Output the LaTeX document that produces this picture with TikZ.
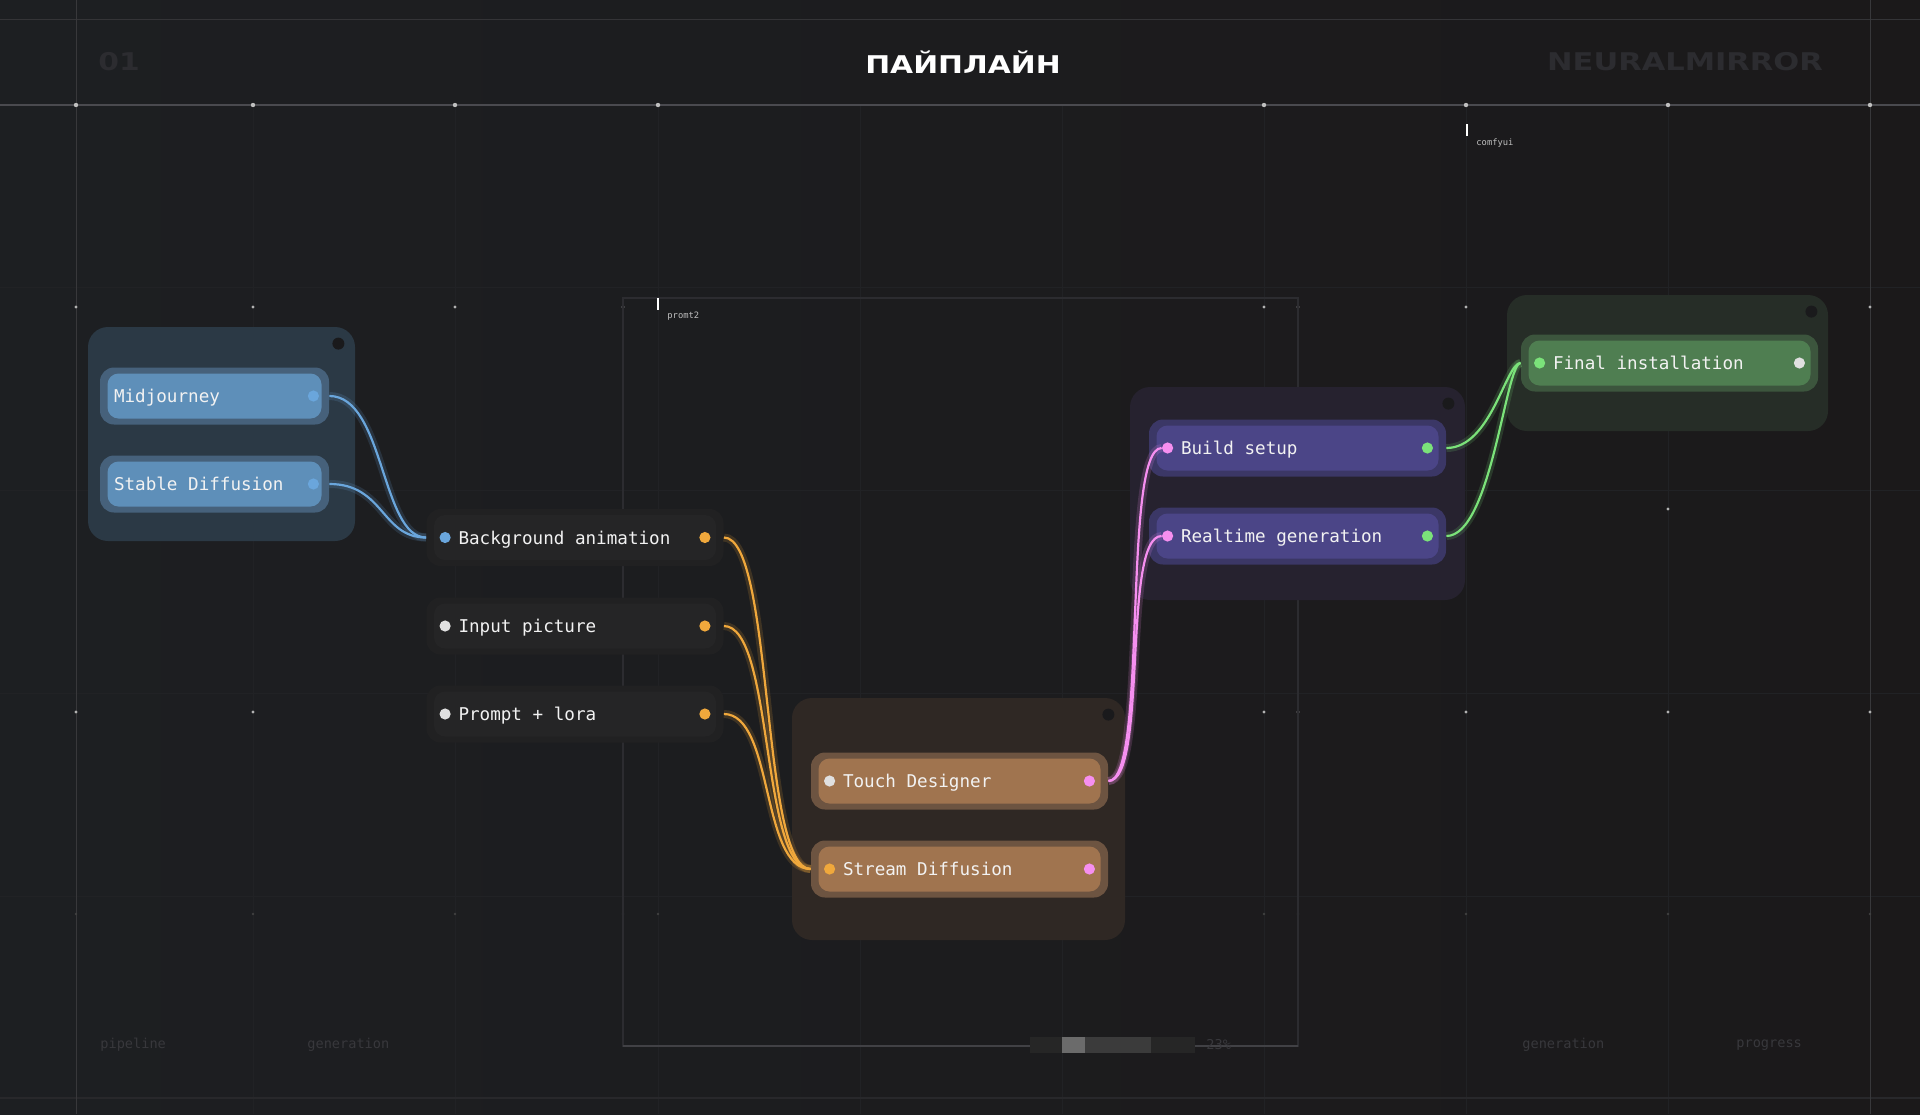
\documentclass[tikz,border=0pt]{standalone}
\usepackage{fontspec}
\setmainfont{DejaVu Sans}
\newfontfamily\monofont{DejaVu Sans Mono}
\usetikzlibrary{calc}

\definecolor{canvasL}{HTML}{1D1F22}
\definecolor{canvasR}{HTML}{1B191A}
\definecolor{gridln}{HTML}{212225}
\definecolor{baseln}{HTML}{28282B}
\definecolor{rule}{HTML}{4A4A4F}
\definecolor{faint}{HTML}{2C2C30}
\definecolor{dimtext}{HTML}{38383C}
\definecolor{nodetext}{HTML}{F2F2F2}
% group panels
\definecolor{blgroup}{HTML}{2B3945}
\definecolor{brgroup}{HTML}{2F2824}
\definecolor{pugroup}{HTML}{26222F}
\definecolor{gngroup}{HTML}{262D27}
\definecolor{hole}{HTML}{1A1A1C}
% node rings and cores
\definecolor{blring}{HTML}{46617B}
\definecolor{blcore}{HTML}{5E8FB9}
\definecolor{dkring}{HTML}{212122}
\definecolor{dkcore}{HTML}{252526}
\definecolor{brring}{HTML}{6D5441}
\definecolor{brcore}{HTML}{A0744F}
\definecolor{puring}{HTML}{3B3766}
\definecolor{pucore}{HTML}{4B4587}
\definecolor{gnring}{HTML}{3C553D}
\definecolor{gncore}{HTML}{4F7E51}
% ports and wires
\definecolor{blport}{HTML}{6AA6DC}
\definecolor{wport}{HTML}{E0E0E0}
\definecolor{orport}{HTML}{F0A83C}
\definecolor{pkport}{HTML}{F68FF0}
\definecolor{gnport}{HTML}{7BE27A}

\begin{document}
\begin{tikzpicture}[x=0.5pt,y=-0.5pt,
    groupbox/.style={fill=#1, rounded corners=10pt, inner sep=0pt},
    ring/.style={fill=#1, rounded corners=7pt, minimum width=148.5pt, minimum height=28.5pt, inner sep=0pt},
    core/.style={fill=#1, rounded corners=5.5pt, minimum width=141pt, minimum height=22.5pt, inner sep=0pt},
    port/.style={circle, fill=#1, minimum size=5.6pt, inner sep=0pt},
    hole/.style={circle, fill=hole, minimum size=6pt, inner sep=0pt},
    lbl/.style={anchor=west, text=nodetext, inner sep=0pt, text height=7.6pt, text depth=0.9pt,
        font=\monofont\fontsize{8.8}{10}\selectfont},
    tiny/.style={anchor=west, text=#1, inner sep=0pt, font=\monofont\fontsize{4.4}{5}\selectfont},
    foot/.style={text=dimtext, inner sep=0pt, font=\monofont\fontsize{6.8}{8}\selectfont},
    head/.style={text=#1, inner sep=0pt, font=\bfseries\fontsize{12.2}{14}\selectfont},
    wire/.style={draw=#1, line width=1.1pt},
    glow/.style={draw=#1, line width=4pt, opacity=0.16}]
\useasboundingbox (0,0) rectangle (1920,1114);

% Backdrop
\shade[left color=canvasL, right color=canvasR] (0,0) rectangle (1920,1114);
\foreach \x in {253,455,658,860,1062,1264,1466,1668}
    \draw[gridln, line width=0.5pt] (\x,105) -- (\x,1114);
\foreach \y in {287,490,693,896}
    \draw[gridln, line width=0.5pt] (0,\y) -- (1920,\y);
\draw[baseln, line width=0.6pt] (0,1098) -- (1920,1098);
\draw[rule!70!black, line width=0.5pt] (0,19) -- (1920,19);
\draw[rule, line width=0.6pt] (0,105) -- (1920,105);
\foreach \x in {76,1870}
    \draw[rule!75!black, line width=0.5pt] (\x,0) -- (\x,1114);

% Grid dots
\foreach \x in {76,253,455,658,1264,1466,1668,1870}
    \fill[white!75!black] (\x,105) circle (1.1pt);
\foreach \x/\y in {76/307,253/307,455/307,623/307,1264/307,1298/307,1466/307,1668/307,1870/307,
                   1668/509,
                   76/712,253/712,1264/712,1298/712,1466/712,1668/712,1870/712}
    \fill[white!70!black] (\x,\y) circle (0.8pt);
\foreach \x in {76,253,455,623,658,1264,1298,1466,1668,1870}
    \fill[white!25!black] (\x,914) circle (0.7pt);

% Frame and markers
\draw[faint, line width=0.7pt] (623,298) rectangle (1298,1046);
\draw[faint!90!white, line width=1.1pt] (623,1046) -- (1298,1046);
\draw[white, line width=1pt] (658,298) -- (658,310);
\node[tiny=white!75!black] (promt) at (667,316) {promt2};
\draw[white, line width=1pt] (1467,124) -- (1467,136);
\node[tiny=white!75!black] (comfy) at (1476,143) {comfyui};

% Header
\node[head=white] (title) at (963,62) {\scalebox{1.22}[1]{ПАЙПЛАЙН}};
\node[head=faint] (num) at (119,62) {\scalebox{1.22}[1]{01}};
\node[head=faint] (brand) at (1685,62) {\scalebox{1.25}[1]{NEURALMIRROR}};

% Footer
\node[foot, anchor=west] (f1) at (100,1045) {pipeline};
\node[foot, anchor=west] (f2) at (307,1045) {generation};
\node[foot, anchor=west] (f3) at (1522,1045) {generation};
\node[foot, anchor=west] (f4) at (1736,1045) {progress};
\fill[white!15!black] (1030,1037) rectangle (1195,1053);
\fill[white!23!black] (1085,1037) rectangle (1151,1053);
\fill[white!42!black] (1062,1037) rectangle (1085,1053);
\node[foot, anchor=west] (pct) at (1206,1045) {23\%};

% Groups
\node[groupbox=blgroup, minimum width=133.5pt, minimum height=107pt] (g1) at (221.5,434) {};
\node[groupbox=brgroup, minimum width=166.5pt, minimum height=121pt] (g2) at (958.5,819) {};
\node[groupbox=pugroup, minimum width=167.5pt, minimum height=106.5pt] (g3) at (1297.5,493.5) {};
\node[groupbox=gngroup, minimum width=160.5pt, minimum height=68pt] (g4) at (1667.5,363) {};
\foreach \g in {g1,g2,g3,g4}
    \node[hole] (\g-hole) at ([xshift=-8.5pt,yshift=-8.5pt]\g.north east) {};

% Sources
\foreach \nm/\y/\txt in {mj/396/Midjourney, sd/484/Stable Diffusion} {
    \node[ring=blring, minimum width=114.5pt] (\nm) at (214.5,\y) {};
    \node[core=blcore, minimum width=107pt] (\nm-core) at (\nm) {};
    \node[lbl] (\nm-txt) at ([xshift=7pt]\nm.west) {\txt};
    \node[port=blport] (\nm-out) at ([xshift=-8pt]\nm.east) {};
}

% Inputs
\foreach \nm/\y/\txt/\pin in {bg/537.5/Background animation/blport, ip/626/Input picture/wport, pl/714/Prompt + lora/wport} {
    \node[ring=dkring] (\nm) at (575,\y) {};
    \node[core=dkcore] (\nm-core) at (\nm) {};
    \node[port=\pin] (\nm-in) at ([xshift=9.5pt]\nm.west) {};
    \node[lbl] (\nm-txt) at ([xshift=16pt]\nm.west) {\txt};
    \node[port=orport] (\nm-out) at ([xshift=-9.5pt]\nm.east) {};
}

% Processing
\foreach \nm/\y/\txt/\pin in {td/781/Touch Designer/wport, sdf/869/Stream Diffusion/orport} {
    \node[ring=brring] (\nm) at (959.5,\y) {};
    \node[core=brcore] (\nm-core) at (\nm) {};
    \node[port=\pin] (\nm-in) at ([xshift=9.5pt]\nm.west) {};
    \node[lbl] (\nm-txt) at ([xshift=16pt]\nm.west) {\txt};
    \node[port=pkport] (\nm-out) at ([xshift=-9.5pt]\nm.east) {};
}

% Output
\foreach \nm/\y/\txt in {bs/448/Build setup, rg/536/Realtime generation} {
    \node[ring=puring] (\nm) at (1297.5,\y) {};
    \node[core=pucore] (\nm-core) at (\nm) {};
    \node[port=pkport] (\nm-in) at ([xshift=9.5pt]\nm.west) {};
    \node[lbl] (\nm-txt) at ([xshift=16pt]\nm.west) {\txt};
    \node[port=gnport] (\nm-out) at ([xshift=-9.5pt]\nm.east) {};
}
\node[ring=gnring] (fi) at (1669.5,363) {};
\node[core=gncore] (fi-core) at (fi) {};
\node[port=gnport] (fi-in) at ([xshift=9.5pt]fi.west) {};
\node[lbl] (fi-txt) at ([xshift=16pt]fi.west) {Final installation};
\node[port=wport] (fi-out) at ([xshift=-9.5pt]fi.east) {};

% Wires
\foreach \a in {mj,sd} {
    \draw[glow=blport] (\a.east) .. controls +(55,0) and +(-45,0) .. (bg.west);
    \draw[wire=blport] (\a.east) .. controls +(55,0) and +(-45,0) .. (bg.west);
}
\foreach \a in {bg,ip,pl} {
    \draw[glow=orport] (\a.east) .. controls +(50,0) and +(-50,0) .. (sdf.west);
    \draw[wire=orport] (\a.east) .. controls +(50,0) and +(-50,0) .. (sdf.west);
}
\foreach \b in {bs,rg} {
    \draw[glow=pkport] (td.east) .. controls +(40,0) and +(-40,0) .. (\b-in.west);
    \draw[wire=pkport] (td.east) .. controls +(40,0) and +(-40,0) .. (\b-in.west);
    \draw[glow=gnport] (\b.east) .. controls +(45,0) and +(-15,0) .. (fi.west);
    \draw[wire=gnport] (\b.east) .. controls +(45,0) and +(-15,0) .. (fi.west);
}
\end{tikzpicture}
\end{document}
